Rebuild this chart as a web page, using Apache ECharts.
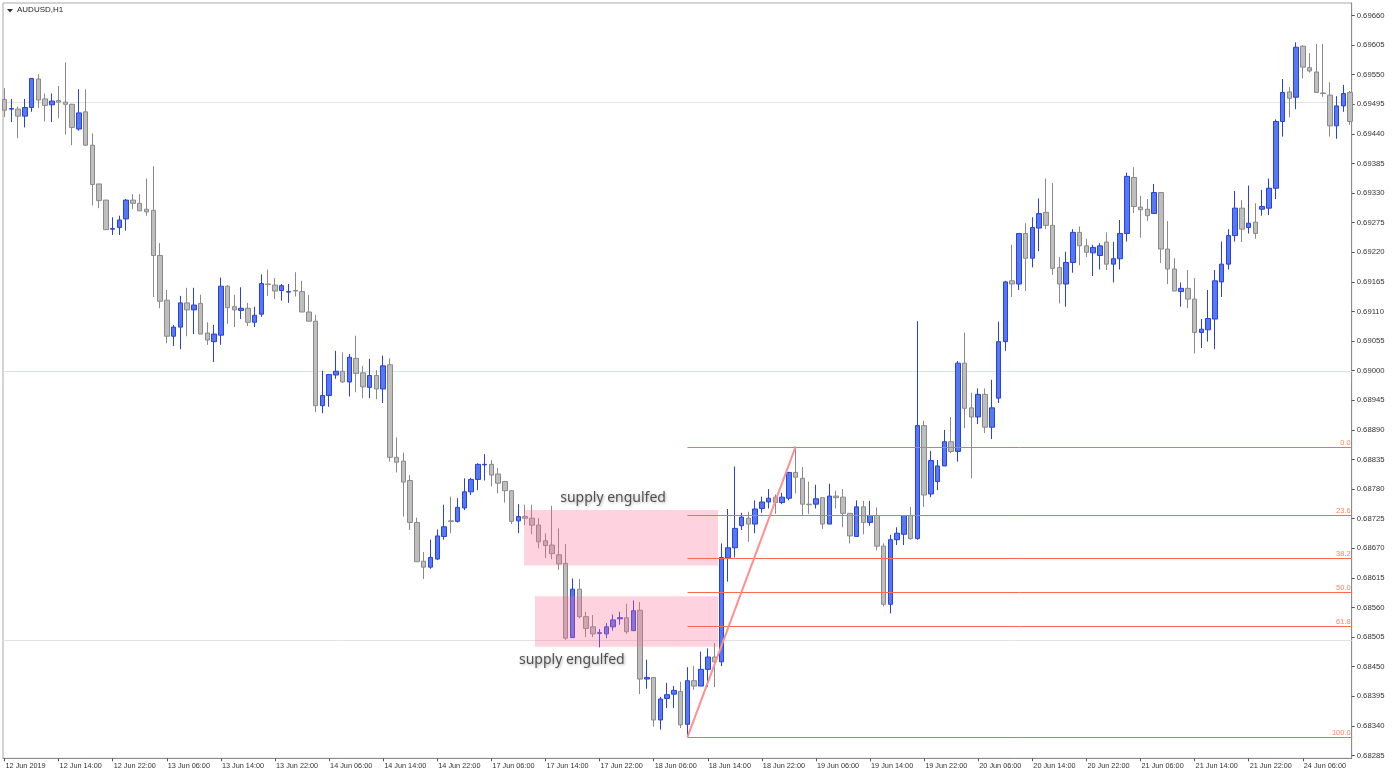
<!DOCTYPE html>
<html>
<head>
<meta charset="utf-8">
<title>AUDUSD,H1</title>
<script src="https://cdn.jsdelivr.net/npm/echarts@6/dist/echarts.min.js"></script>
<style>
  html, body { margin: 0; padding: 0; background: #fff; }
  #chart { width: 1392px; height: 778px; }
</style>
</head>
<body>
<div id="chart"></div>
<script>
// AUDUSD H1, 200 bars from 12 Jun 2019 06:00 to 24 Jun 13:00
const opens = [
  0.69504, 0.69486, 0.69486, 0.69473, 0.69489, 0.69542, 0.69505, 0.69494, 0.69502, 0.69499,
  0.69495, 0.69449, 0.69481, 0.69419, 0.69347, 0.69317, 0.69263, 0.69266, 0.69282, 0.69317,
  0.69311, 0.69300, 0.69298, 0.69214, 0.69131, 0.69064, 0.69081, 0.69126, 0.69113, 0.69125,
  0.69070, 0.69054, 0.69066, 0.69157, 0.69119, 0.69112, 0.69116, 0.69090, 0.69105, 0.69161,
  0.69159, 0.69149, 0.69146, 0.69149, 0.69147, 0.69109, 0.69092, 0.68935, 0.68954, 0.68992,
  0.68999, 0.68979, 0.69023, 0.68996, 0.68969, 0.68991, 0.68966, 0.69011, 0.68839, 0.68832,
  0.68796, 0.68718, 0.68646, 0.68635, 0.68650, 0.68692, 0.68721, 0.68720, 0.68745, 0.68775,
  0.68798, 0.68825, 0.68826, 0.68808, 0.68794, 0.68777, 0.68721, 0.68729, 0.68726, 0.68713,
  0.68684, 0.68676, 0.68658, 0.68642, 0.68504, 0.68594, 0.68543, 0.68524, 0.68512, 0.68511,
  0.68524, 0.68539, 0.68541, 0.68517, 0.68555, 0.68427, 0.68430, 0.68351, 0.68391, 0.68399,
  0.68404, 0.68343, 0.68424, 0.68414, 0.68445, 0.68468, 0.68459, 0.68652, 0.68671, 0.68712,
  0.68726, 0.68715, 0.68744, 0.68756, 0.68765, 0.68755, 0.68763, 0.68811, 0.68800, 0.68752,
  0.68752, 0.68764, 0.68715, 0.68767, 0.68765, 0.68735, 0.68692, 0.68747, 0.68718, 0.68731,
  0.68674, 0.68566, 0.68686, 0.68696, 0.68731, 0.68688, 0.68898, 0.68771, 0.68794, 0.68823,
  0.68868, 0.68850, 0.69014, 0.68931, 0.68914, 0.68956, 0.68895, 0.68949, 0.69054, 0.69167,
  0.69161, 0.69255, 0.69209, 0.69265, 0.69294, 0.69270, 0.69192, 0.69161, 0.69201, 0.69257,
  0.69232, 0.69219, 0.69214, 0.69239, 0.69198, 0.69208, 0.69255, 0.69359, 0.69304, 0.69300,
  0.69292, 0.69331, 0.69226, 0.69189, 0.69147, 0.69153, 0.69133, 0.69071, 0.69076, 0.69096,
  0.69165, 0.69198, 0.69251, 0.69302, 0.69266, 0.69276, 0.69300, 0.69302, 0.69339, 0.69463,
  0.69518, 0.69508, 0.69603, 0.69563, 0.69555, 0.69516, 0.69512, 0.69455, 0.69492, 0.69517
];
const closes = [
  0.69484, 0.69487, 0.69473, 0.69489, 0.69543, 0.69503, 0.69493, 0.69501, 0.69499, 0.69495,
  0.69452, 0.69479, 0.69419, 0.69346, 0.69316, 0.69262, 0.69264, 0.69280, 0.69317, 0.69311,
  0.69297, 0.69295, 0.69214, 0.69129, 0.69064, 0.69081, 0.69126, 0.69113, 0.69122, 0.69068,
  0.69057, 0.69068, 0.69157, 0.69117, 0.69113, 0.69116, 0.69090, 0.69103, 0.69162, 0.69160,
  0.69148, 0.69158, 0.69147, 0.69148, 0.69109, 0.69092, 0.68935, 0.68954, 0.68993, 0.68999,
  0.68979, 0.69025, 0.68995, 0.68970, 0.68991, 0.68966, 0.69009, 0.68839, 0.68830, 0.68793,
  0.68718, 0.68645, 0.68635, 0.68653, 0.68693, 0.68710, 0.68720, 0.68746, 0.68775, 0.68798,
  0.68826, 0.68826, 0.68806, 0.68791, 0.68777, 0.68720, 0.68729, 0.68726, 0.68713, 0.68682,
  0.68675, 0.68660, 0.68641, 0.68503, 0.68594, 0.68543, 0.68521, 0.68511, 0.68513, 0.68524,
  0.68537, 0.68541, 0.68515, 0.68554, 0.68427, 0.68430, 0.68351, 0.68390, 0.68398, 0.68406,
  0.68342, 0.68424, 0.68414, 0.68445, 0.68468, 0.68459, 0.68653, 0.68671, 0.68707, 0.68728,
  0.68715, 0.68743, 0.68756, 0.68763, 0.68755, 0.68765, 0.68811, 0.68802, 0.68752, 0.68751,
  0.68762, 0.68715, 0.68767, 0.68764, 0.68735, 0.68693, 0.68747, 0.68718, 0.68731, 0.68674,
  0.68566, 0.68686, 0.68698, 0.68731, 0.68688, 0.68898, 0.68769, 0.68833, 0.68823, 0.68868,
  0.68850, 0.69014, 0.68930, 0.68914, 0.68956, 0.68895, 0.68931, 0.69054, 0.69165, 0.69161,
  0.69255, 0.69209, 0.69266, 0.69292, 0.69270, 0.69190, 0.69161, 0.69201, 0.69257, 0.69232,
  0.69220, 0.69229, 0.69232, 0.69198, 0.69208, 0.69255, 0.69361, 0.69305, 0.69299, 0.69288,
  0.69331, 0.69226, 0.69189, 0.69148, 0.69153, 0.69133, 0.69071, 0.69077, 0.69097, 0.69167,
  0.69198, 0.69251, 0.69302, 0.69263, 0.69274, 0.69255, 0.69305, 0.69339, 0.69463, 0.69517,
  0.69506, 0.69601, 0.69564, 0.69557, 0.69517, 0.69515, 0.69455, 0.69492, 0.69515, 0.69463
];
const highs = [
  0.69525, 0.69505, 0.69491, 0.69505, 0.69544, 0.69551, 0.69515, 0.69515, 0.69529, 0.69573,
  0.69496, 0.69523, 0.69523, 0.69441, 0.69347, 0.69317, 0.69285, 0.69288, 0.69319, 0.69328,
  0.69328, 0.69357, 0.69380, 0.69237, 0.69150, 0.69085, 0.69139, 0.69154, 0.69154, 0.69141,
  0.69090, 0.69085, 0.69173, 0.69159, 0.69141, 0.69155, 0.69126, 0.69119, 0.69179, 0.69188,
  0.69172, 0.69161, 0.69161, 0.69183, 0.69167, 0.69141, 0.69104, 0.69000, 0.68993, 0.69037,
  0.69034, 0.69031, 0.69065, 0.69009, 0.69022, 0.69001, 0.69028, 0.69023, 0.68876, 0.68848,
  0.68806, 0.68727, 0.68663, 0.68686, 0.68705, 0.68751, 0.68766, 0.68763, 0.68800, 0.68801,
  0.68828, 0.68845, 0.68834, 0.68819, 0.68794, 0.68777, 0.68752, 0.68751, 0.68751, 0.68726,
  0.68698, 0.68749, 0.68707, 0.68678, 0.68614, 0.68613, 0.68552, 0.68546, 0.68520, 0.68531,
  0.68547, 0.68552, 0.68567, 0.68573, 0.68570, 0.68463, 0.68430, 0.68394, 0.68420, 0.68414,
  0.68422, 0.68449, 0.68451, 0.68478, 0.68484, 0.68494, 0.68679, 0.68743, 0.68822, 0.68736,
  0.68738, 0.68759, 0.68766, 0.68780, 0.68770, 0.68773, 0.68811, 0.68859, 0.68821, 0.68794,
  0.68788, 0.68764, 0.68790, 0.68777, 0.68780, 0.68735, 0.68759, 0.68758, 0.68758, 0.68746,
  0.68679, 0.68695, 0.68709, 0.68731, 0.68747, 0.69092, 0.68907, 0.68851, 0.68834, 0.68890,
  0.68914, 0.69018, 0.69071, 0.68959, 0.68967, 0.68967, 0.68983, 0.69091, 0.69167, 0.69234,
  0.69255, 0.69274, 0.69285, 0.69320, 0.69357, 0.69349, 0.69211, 0.69221, 0.69263, 0.69268,
  0.69245, 0.69234, 0.69237, 0.69257, 0.69239, 0.69280, 0.69368, 0.69378, 0.69325, 0.69319,
  0.69347, 0.69331, 0.69278, 0.69209, 0.69164, 0.69187, 0.69172, 0.69096, 0.69150, 0.69187,
  0.69240, 0.69263, 0.69334, 0.69317, 0.69344, 0.69311, 0.69336, 0.69357, 0.69467, 0.69542,
  0.69527, 0.69610, 0.69605, 0.69590, 0.69607, 0.69607, 0.69536, 0.69510, 0.69531, 0.69520
];
const lows = [
  0.69471, 0.69462, 0.69432, 0.69452, 0.69481, 0.69488, 0.69463, 0.69462, 0.69469, 0.69439,
  0.69419, 0.69446, 0.69418, 0.69307, 0.69302, 0.69262, 0.69252, 0.69252, 0.69260, 0.69300,
  0.69297, 0.69288, 0.69137, 0.69116, 0.69051, 0.69046, 0.69040, 0.69064, 0.69068, 0.69068,
  0.69048, 0.69016, 0.69048, 0.69087, 0.69081, 0.69096, 0.69083, 0.69081, 0.69100, 0.69139,
  0.69133, 0.69130, 0.69126, 0.69138, 0.69109, 0.69092, 0.68923, 0.68921, 0.68933, 0.68985,
  0.68977, 0.68952, 0.68960, 0.68949, 0.68949, 0.68947, 0.68940, 0.68831, 0.68811, 0.68729,
  0.68704, 0.68645, 0.68613, 0.68632, 0.68648, 0.68686, 0.68698, 0.68718, 0.68741, 0.68769,
  0.68778, 0.68796, 0.68785, 0.68772, 0.68755, 0.68715, 0.68698, 0.68713, 0.68696, 0.68670,
  0.68652, 0.68650, 0.68630, 0.68500, 0.68504, 0.68540, 0.68505, 0.68505, 0.68486, 0.68503,
  0.68517, 0.68528, 0.68511, 0.68517, 0.68399, 0.68409, 0.68339, 0.68333, 0.68373, 0.68373,
  0.68336, 0.68319, 0.68407, 0.68414, 0.68412, 0.68412, 0.68451, 0.68608, 0.68653, 0.68704,
  0.68682, 0.68698, 0.68736, 0.68744, 0.68734, 0.68752, 0.68759, 0.68772, 0.68731, 0.68734,
  0.68744, 0.68706, 0.68715, 0.68744, 0.68709, 0.68679, 0.68692, 0.68696, 0.68712, 0.68666,
  0.68562, 0.68549, 0.68676, 0.68676, 0.68686, 0.68686, 0.68747, 0.68765, 0.68778, 0.68823,
  0.68847, 0.68831, 0.68893, 0.68800, 0.68901, 0.68884, 0.68873, 0.68940, 0.69037, 0.69137,
  0.69150, 0.69148, 0.69192, 0.69222, 0.69263, 0.69178, 0.69125, 0.69119, 0.69182, 0.69196,
  0.69211, 0.69176, 0.69188, 0.69187, 0.69164, 0.69188, 0.69240, 0.69293, 0.69247, 0.69278,
  0.69292, 0.69200, 0.69161, 0.69148, 0.69119, 0.69116, 0.69032, 0.69042, 0.69054, 0.69040,
  0.69137, 0.69188, 0.69240, 0.69239, 0.69255, 0.69245, 0.69288, 0.69289, 0.69319, 0.69435,
  0.69471, 0.69486, 0.69543, 0.69554, 0.69517, 0.69509, 0.69435, 0.69431, 0.69481, 0.69457
];

// time scale labels, one every 8 bars
const tickEvery = 8;
const timeLabels = [
  '12 Jun 2019', '12 Jun 14:00', '12 Jun 22:00', '13 Jun 06:00', '13 Jun 14:00',
  '13 Jun 22:00', '14 Jun 06:00', '14 Jun 14:00', '14 Jun 22:00', '17 Jun 06:00',
  '17 Jun 14:00', '17 Jun 22:00', '18 Jun 06:00', '18 Jun 14:00', '18 Jun 22:00',
  '19 Jun 06:00', '19 Jun 14:00', '19 Jun 22:00', '20 Jun 06:00', '20 Jun 14:00',
  '20 Jun 22:00', '21 Jun 06:00', '21 Jun 14:00', '21 Jun 22:00', '24 Jun 06:00'
];
const priceLabels = [
  0.68285, 0.68340, 0.68395, 0.68450, 0.68505, 0.68560, 0.68615, 0.68670, 0.68725,
  0.68780, 0.68835, 0.68890, 0.68945, 0.69000, 0.69055, 0.69110, 0.69165, 0.69220,
  0.69275, 0.69330, 0.69385, 0.69440, 0.69495, 0.69550, 0.69605, 0.69660
];

// round-number horizontal lines
const roundLevels = [0.695, 0.690, 0.685];

// fibonacci retracement drawn from bar 101 low to bar 117 high
const fibFromBar = 101;
const fibToBar = 117;
const fibLow = 0.68319;
const fibHigh = 0.68859;
const fibLevels = [0, 23.6, 38.2, 50, 61.8, 100];

// supply zones: [fromBar, toBar, top, bottom]
const zones = [
  [76.83, 105.52, 0.68741, 0.68638],
  [78.45, 105.52, 0.68581, 0.68487]
];
const notes = [
  [90.0, 0.68764, 'supply engulfed'],
  [83.9, 0.68462, 'supply engulfed']
];

const candleData = opens.map((o, i) => [i, o, closes[i], lows[i], highs[i]]);
const fibData = fibLevels.map(l => [l, fibHigh - (fibHigh - fibLow) * l / 100]);

const axisFont = 'Liberation Sans, Arial, sans-serif';

const chart = echarts.init(document.getElementById('chart'));
chart.setOption({
  animation: false,
  backgroundColor: '#ffffff',
  grid: {
    left: 3,
    right: 40.3,
    top: 3,
    bottom: 19.7,
    show: true,
    borderColor: '#a8a8a8',
    borderWidth: 1
  },
  xAxis: {
    type: 'value',
    min: -0.222,
    max: 199.23,
    splitLine: { show: false },
    axisLine: { show: true, onZero: false, lineStyle: { color: '#8c8c8c' } },
    axisTick: {
      show: true,
      length: 3,
      lineStyle: { color: '#555' },
      customValues: timeLabels.map((t, i) => i * tickEvery)
    },
    axisLabel: {
      customValues: timeLabels.map((t, i) => i * tickEvery),
      formatter: v => timeLabels[Math.round(v / tickEvery)] || '',
      align: 'left',
      margin: 4,
      padding: [0, 0, 0, 1],
      color: '#333',
      fontSize: 7.3,
      fontFamily: axisFont
    }
  },
  yAxis: {
    type: 'value',
    position: 'right',
    min: 0.682798,
    max: 0.696832,
    scale: true,
    splitLine: { show: false },
    axisLine: { show: true, onZero: false, lineStyle: { color: '#8c8c8c' } },
    axisTick: {
      show: true,
      length: 3,
      lineStyle: { color: '#555' },
      customValues: priceLabels
    },
    axisLabel: {
      customValues: priceLabels,
      formatter: v => v.toFixed(5),
      margin: 5,
      color: '#333',
      fontSize: 7.7,
      fontFamily: axisFont
    }
  },
  graphic: [
    {
      type: 'polygon',
      shape: { points: [[7, 9], [13, 9], [10, 12.5]] },
      style: { fill: '#333' }
    },
    {
      type: 'text',
      left: 17,
      top: 6,
      style: { text: 'AUDUSD,H1', fill: '#222', fontSize: 8, fontFamily: axisFont }
    }
  ],
  series: [
    {
      name: 'levels',
      type: 'custom',
      z: 1,
      silent: true,
      data: roundLevels.map(v => [v]),
      renderItem(params, api) {
        const cs = params.coordSys;
        const y = Math.round(api.coord([0, api.value(0)])[1]) + 0.5;
        return {
          type: 'line',
          shape: { x1: cs.x, y1: y, x2: cs.x + cs.width, y2: y },
          style: { stroke: api.value(0) === 0.690 ? '#d3e8ee' : '#e2e2e2', lineWidth: 1 }
        };
      }
    },
    {
      name: 'AUDUSD',
      type: 'candlestick',
      z: 2,
      barWidth: 5,
      encode: { x: 0, y: [1, 2, 3, 4] },
      data: candleData,
      itemStyle: {
        color: '#5579f1',
        color0: '#bebebe',
        borderColor: '#2b3fe6',
        borderColor0: '#8a8a8a',
        borderWidth: 1
      }
    },
    {
      name: 'zones',
      type: 'custom',
      z: 3,
      silent: true,
      data: zones,
      renderItem(params, api) {
        const p1 = api.coord([api.value(0), api.value(2)]);
        const p2 = api.coord([api.value(1), api.value(3)]);
        return {
          type: 'rect',
          shape: { x: p1[0], y: p1[1], width: p2[0] - p1[0], height: p2[1] - p1[1] },
          style: { fill: 'rgba(255,105,150,0.3)' }
        };
      }
    },
    {
      name: 'fibo',
      type: 'custom',
      z: 4,
      silent: true,
      data: fibData,
      renderItem(params, api) {
        const cs = params.coordSys;
        const p = api.coord([fibFromBar, api.value(1)]);
        const y = Math.round(p[1]) + 0.5;
        const right = cs.x + cs.width;
        return {
          type: 'group',
          children: [
            {
              type: 'line',
              shape: { x1: p[0], y1: y, x2: right, y2: y },
              style: { stroke: '#ff6a4f', lineWidth: 1 }
            },
            {
              type: 'text',
              style: {
                text: api.value(0).toFixed(1),
                x: right - 1,
                y: y - 1,
                align: 'right',
                verticalAlign: 'bottom',
                fill: '#ff8466',
                fontSize: 7.5,
                fontFamily: axisFont
              }
            }
          ]
        };
      }
    },
    {
      name: 'fibTrend',
      type: 'line',
      z: 5,
      silent: true,
      symbol: 'none',
      data: [[fibFromBar, fibLow], [fibToBar, fibHigh]],
      lineStyle: { color: '#ff9090', width: 2 }
    },
    {
      name: 'notes',
      type: 'scatter',
      z: 6,
      silent: true,
      symbolSize: 0,
      data: notes,
      label: {
        show: true,
        position: 'inside',
        formatter: p => p.data[2],
        color: '#2a2a2a',
        fontSize: 14,
        fontFamily: 'Noto Sans, sans-serif',
        textShadowColor: 'rgba(0,0,0,0.4)',
        textShadowBlur: 3,
        textShadowOffsetX: 1,
        textShadowOffsetY: 1
      }
    }
  ]
});
</script>
</body>
</html>
